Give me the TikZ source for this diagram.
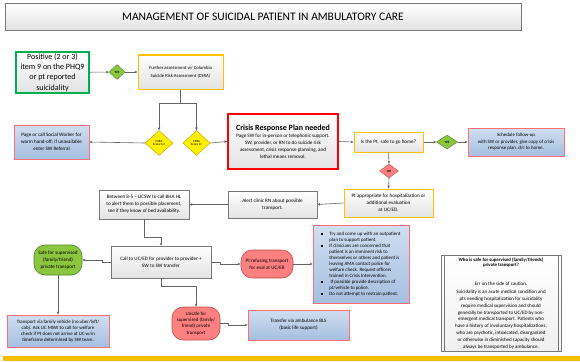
\documentclass[tikz,border=0pt]{standalone}
\usepackage{fontspec}
\setmainfont{Carlito}
\usepackage{xcolor}
\usepackage{tikz}
\usetikzlibrary{shapes.geometric,arrows.meta}

\definecolor{boxline}{RGB}{120,120,120}
\definecolor{wire}{RGB}{100,100,100}
\definecolor{okgreen}{RGB}{0,176,80}
\definecolor{amber}{RGB}{255,192,0}
\definecolor{alarm}{RGB}{255,0,0}
\definecolor{pinkline}{RGB}{255,110,115}
\definecolor{bluetop}{RGB}{208,222,240}
\definecolor{bluebot}{RGB}{165,191,224}
\definecolor{yesgreen}{RGB}{140,198,63}
\definecolor{yesline}{RGB}{80,130,40}
\definecolor{csrayellow}{RGB}{255,240,0}
\definecolor{csraline}{RGB}{190,160,0}
\definecolor{unsafered}{RGB}{255,128,128}
\definecolor{unsafeline}{RGB}{192,80,77}
\definecolor{barcol}{RGB}{246,192,0}

\newcommand{\sqbul}{\rule[0.4pt]{1.8pt}{1.8pt}}

\begin{document}
\begin{tikzpicture}[x=1pt,y=-1pt,
    >={Stealth[length=3pt,width=2.6pt]},
    box/.style={rectangle, draw=boxline, line width=0.5pt, top color=white,
      bottom color=gray!22, inner sep=1pt, align=center,
      font=\fontsize{5.1}{7}\selectfont},
    ambox/.style={box, draw=amber, line width=1pt},
    bluebox/.style={box, draw=pinkline, line width=0.9pt, top color=bluetop,
      bottom color=bluebot},
    choice/.style={diamond, draw, inner sep=0pt, align=center,
      font=\fontsize{3.2}{3.8}\selectfont},
    pill/.style={rectangle, rounded corners=11pt, draw, line width=0.6pt,
      inner sep=1pt, align=center, font=\fontsize{5.1}{7}\selectfont},
    conn/.style={draw=wire, line width=0.6pt, ->}]
    \useasboundingbox (0,0) rectangle (580,361);

    % Title
    \node[box, minimum width=516pt, minimum height=27pt,
      font=\fontsize{11.5}{13}\selectfont] (title) at (263,16.5)
      {MANAGEMENT OF SUICIDAL PATIENT IN AMBULATORY CARE};

    % Screening
    \node[box, draw=okgreen, line width=1.3pt, minimum width=73pt,
      minimum height=41pt, font=\fontsize{8}{10.3}\selectfont] (pos) at (52.5,72.5)
      {Positive (2 or 3)\\item 9 on the PHQ9\\or pt reported\\suicidality};
    \node[choice, fill=yesgreen, draw=yesline, minimum width=16pt,
      minimum height=15pt] (yes1) at (117,72) {\bfseries YES};
    \node[ambox, minimum width=85pt, minimum height=34pt,
      font=\fontsize{4.7}{7.5}\selectfont] (further) at (180.5,72)
      {Further assessment w/ Columbia\\Suicide Risk Assessment (CSRA)};

    % CSRA score
    \node[choice, fill=csrayellow, draw=csraline, minimum width=28pt,
      minimum height=25pt] (csra1) at (159,143) {CSRA\\Score 0-2};
    \node[choice, fill=csrayellow, draw=csraline, minimum width=27pt,
      minimum height=25pt] (csra2) at (196.5,143) {CSRA\\Score 3+};
    \node[bluebox, minimum width=75pt, minimum height=34pt] (sw) at (51.5,142)
      {Page or call Social Worker for\\warm hand-off; if unavailable\\enter SW Referral};
    \node[box, draw=alarm, line width=1.6pt, minimum width=110pt,
      minimum height=55pt] (crisis) at (283,141.5)
      {{\fontsize{8}{10}\selectfont\bfseries Crisis Response Plan needed}\\
       Page SW for in-person or telephonic support.\\
       SW, provider, or RN to do suicide risk\\
       assessment, crisis response planning, and\\
       lethal means removal.};

    % Safe to go home?
    \node[ambox, minimum width=69pt, minimum height=20pt] (safe) at (388.5,142)
      {Is the Pt. safe to go home?};
    \node[choice, fill=yesgreen, draw=yesline, minimum width=21pt,
      minimum height=14pt] (yes2) at (447,142) {\bfseries YES};
    \node[bluebox, minimum width=96pt, minimum height=28pt,
      font=\fontsize{4.9}{6.4}\selectfont] (sched) at (516,142)
      {Schedule follow-up\\with SW or provider, give copy of crisis\\response plan, d/c to home.};
    \node[choice, fill=unsafered, draw=unsafeline, minimum width=19pt,
      minimum height=14pt] (no) at (389,171) {\bfseries NO};
    \node[ambox, minimum width=89pt, minimum height=28pt] (approp) at (388.5,203)
      {Pt appropriate for hospitalization or\\additional evaluation\\at UC/ED.};
    \node[box, minimum width=89pt, minimum height=27pt] (alert) at (272.5,204.5)
      {Alert clinic RN about possible\\transport.};
    \node[box, minimum width=90pt, minimum height=29pt] (between) at (144,204.5)
      {Between 8-5 -- LICSW to call BHA HL\\to alert them to possible placement,\\see if they know of bed availability.};
    \node[box, minimum width=100pt, minimum height=32pt] (call) at (161,262)
      {Call to UC/ED for provider to provider +\\SW to SW transfer};

    % Transport
    \node[pill, fill=yesgreen, draw=yesline, minimum width=48pt,
      minimum height=30pt] (safesup) at (58,260)
      {Safe for supervised\\(family/friend)\\private transport};
    \node[pill, fill=unsafered, draw=unsafeline, minimum width=52pt,
      minimum height=28pt] (refuse) at (267,264)
      {Pt refusing transport\\for eval at UC/ER};
    \node[bluebox, minimum width=96pt, minimum height=78pt,
      font=\fontsize{4.9}{6}\selectfont] (bullets) at (361,264)
      {\begin{tabular}{@{}p{8pt}@{}l@{}}
       \sqbul & Try and come up with an outpatient\\
              & plan to support patient.\\
       \sqbul & If clinicians are concerned that\\
              & patient is an imminent risk to\\
              & themselves or others and patient is\\
              & leaving AMA contact police for\\
              & welfare check. Request officers\\
              & trained in Crisis Intervention.\\
       \sqbul & \ If possible provide description of\\
              & pt/vehicle to police.\\
       \sqbul & Do not attempt to restrain patient.
       \end{tabular}};
    \node[pill, fill=unsafered, draw=unsafeline, minimum width=48pt,
      minimum height=33pt, font=\fontsize{4.9}{6.4}\selectfont] (unsafe) at (196,323.5)
      {Unsafe for\\supervised (family/\\friend) private\\transport};
    \node[bluebox, minimum width=101pt, minimum height=30pt] (transfer) at (298.5,325)
      {Transfer via ambulance BLS\\(basic life support)};
    \node[bluebox, minimum width=102pt, minimum height=32pt,
      font=\fontsize{4.9}{5.8}\selectfont] (family) at (58,331)
      {Transport via family vehicle (no uber/lyft/\\cab). Ask UC MSW to call for welfare\\check if Pt does not arrive at UC w/in\\timeframe determined by SW team.};

    % Side note
    \node[box, top color=white, bottom color=gray!12, minimum width=120pt,
      minimum height=96pt] (note) at (501,303) {};
    \draw[boxline, line width=0.5pt] ([xshift=3pt]note.north west) -- ([xshift=3pt]note.south west);
    \draw[boxline, line width=0.5pt] ([xshift=-3pt]note.north east) -- ([xshift=-3pt]note.south east);
    \node[align=center, inner sep=0pt, font=\fontsize{4.8}{5.6}\selectfont\bfseries]
      (notehead) at (501,262.5)
      {Who is safe for supervised (family/friends)\\private transport?};
    \node[inner sep=0pt, font=\fontsize{5}{6}\selectfont] (noteerr) at (501,283.3)
      {Err on the side of caution.};
    \node[align=center, inner sep=0pt, font=\fontsize{5}{6.8}\selectfont]
      (notebody) at (501,319.5)
      {Suicidality is an acute medical condition and\\
       pts needing hospitalization for suicidality\\
       require medical supervision and should\\
       generally be transported to UC/ED by non-\\
       emergent medical transport. Patients who\\
       have a history of involuntary hospitalizations,\\
       who are psychotic, intoxicated, disorganized\\
       or otherwise in diminished capacity should\\
       always be transported by ambulance.};

    % Bottom bar
    \fill[barcol] (3,356) rectangle (580,361);

    % Connectors
    \draw[conn] (pos) -- (yes1);
    \draw[conn] (yes1) -- (further);
    \draw[draw=wire, line width=0.6pt] (further.south) -- ++(0,14) coordinate (fork);
    \draw[conn] (fork) -| (csra1.north);
    \draw[conn] (fork) -| (csra2.north);
    \draw[conn] (csra1.west) -- (sw.east);
    \draw[conn] (csra2.east) -- (crisis.west);
    \draw[conn] (crisis.east) -- (safe.west);
    \draw[conn] (safe.east) -- (yes2.west);
    \draw[conn] (yes2.east) -- (sched.west);
    \draw[conn] (safe.south) -- (no.north);
    \draw[conn] (no.south) -- (approp.north);
    \draw[conn] (approp.west) -- (alert.east);
    \draw[conn] (alert.west) -- (between.east);
    \draw[conn] (between.south) -- ++(0,18) -| (call.north);
    \draw[conn] (call.west) -- ++(-8,0) |- (safesup.east);
    \draw[conn] (call.east) -- ++(9,0) |- (refuse.west);
    \draw[conn] (refuse.east) -- (bullets.west);
    \draw[conn] (call.south) -- ++(0,8) -| (unsafe.north);
    \draw[conn] (unsafe.east) -- ++(8,0) |- (transfer.west);
    \draw[conn] (safesup.south) -- (family.north);

\end{tikzpicture}
\end{document}
